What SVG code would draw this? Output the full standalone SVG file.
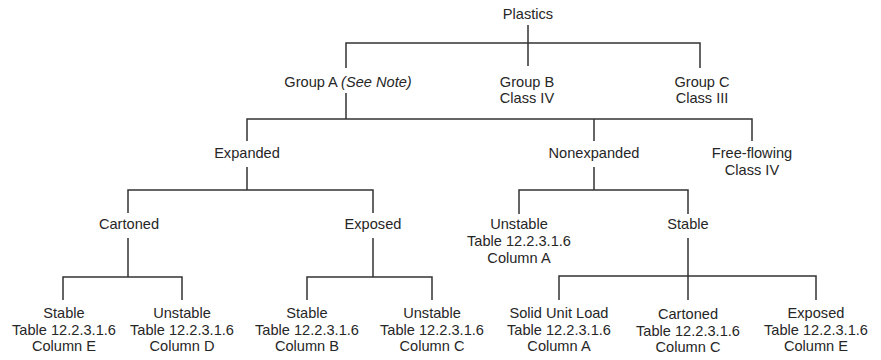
<svg xmlns="http://www.w3.org/2000/svg" width="881" height="360" viewBox="0 0 881 360">
<style>
text{font-family:"Liberation Sans",Arial,sans-serif;font-size:14.6px;fill:#262626;text-anchor:middle}
.c path{fill:none;stroke:#333;stroke-width:1.5}
</style>
<rect width="881" height="360" fill="#fff"/>
<g class="c" id="connectors">
<path d="M528 25V66M346 68V43H700V68"/>
<path d="M346 93V119M247 141V119H752V141M594 119V141"/>
<path d="M247 167V190M128 213V190H373V213"/>
<path d="M594 167V190M519 214V190H688V214"/>
<path d="M128 238V277M63 300V277H182V300"/>
<path d="M373 238V277M307 300V277H432V300"/>
<path d="M688 238V276M559 300V276H816V300M688 276V300"/>
</g>
<g id="plastics"><text x="528" y="19">Plastics</text></g>
<g id="groupA"><text x="348" y="87">Group A <tspan font-style="italic">(See Note)</tspan></text></g>
<g id="groupB"><text x="527" y="87">Group B</text><text x="527" y="103">Class IV</text></g>
<g id="groupC"><text x="702" y="87">Group C</text><text x="702" y="103">Class III</text></g>
<g id="expanded"><text x="247" y="158">Expanded</text></g>
<g id="nonexpanded"><text x="594" y="158">Nonexpanded</text></g>
<g id="freeflowing"><text x="752" y="158">Free-flowing</text><text x="752" y="175">Class IV</text></g>
<g id="cartoned"><text x="129" y="229">Cartoned</text></g>
<g id="exposed"><text x="373" y="229">Exposed</text></g>
<g id="unstableA"><text x="519" y="229">Unstable</text><text x="519" y="246">Table 12.2.3.1.6</text><text x="519" y="263">Column A</text></g>
<g id="stable"><text x="688" y="229">Stable</text></g>
<g id="leafE"><text x="64" y="318">Stable</text><text x="64" y="335">Table 12.2.3.1.6</text><text x="64" y="351">Column E</text></g>
<g id="leafD"><text x="182" y="318">Unstable</text><text x="182" y="335">Table 12.2.3.1.6</text><text x="182" y="351">Column D</text></g>
<g id="leafB"><text x="307" y="318">Stable</text><text x="307" y="335">Table 12.2.3.1.6</text><text x="307" y="351">Column B</text></g>
<g id="leafC"><text x="432" y="318">Unstable</text><text x="432" y="335">Table 12.2.3.1.6</text><text x="432" y="351">Column C</text></g>
<g id="leafSolid"><text x="559" y="318">Solid Unit Load</text><text x="559" y="335">Table 12.2.3.1.6</text><text x="559" y="351">Column A</text></g>
<g id="leafCart"><text x="688" y="319">Cartoned</text><text x="688" y="336">Table 12.2.3.1.6</text><text x="688" y="352">Column C</text></g>
<g id="leafExp"><text x="816" y="318">Exposed</text><text x="816" y="335">Table 12.2.3.1.6</text><text x="816" y="351">Column E</text></g>
</svg>
